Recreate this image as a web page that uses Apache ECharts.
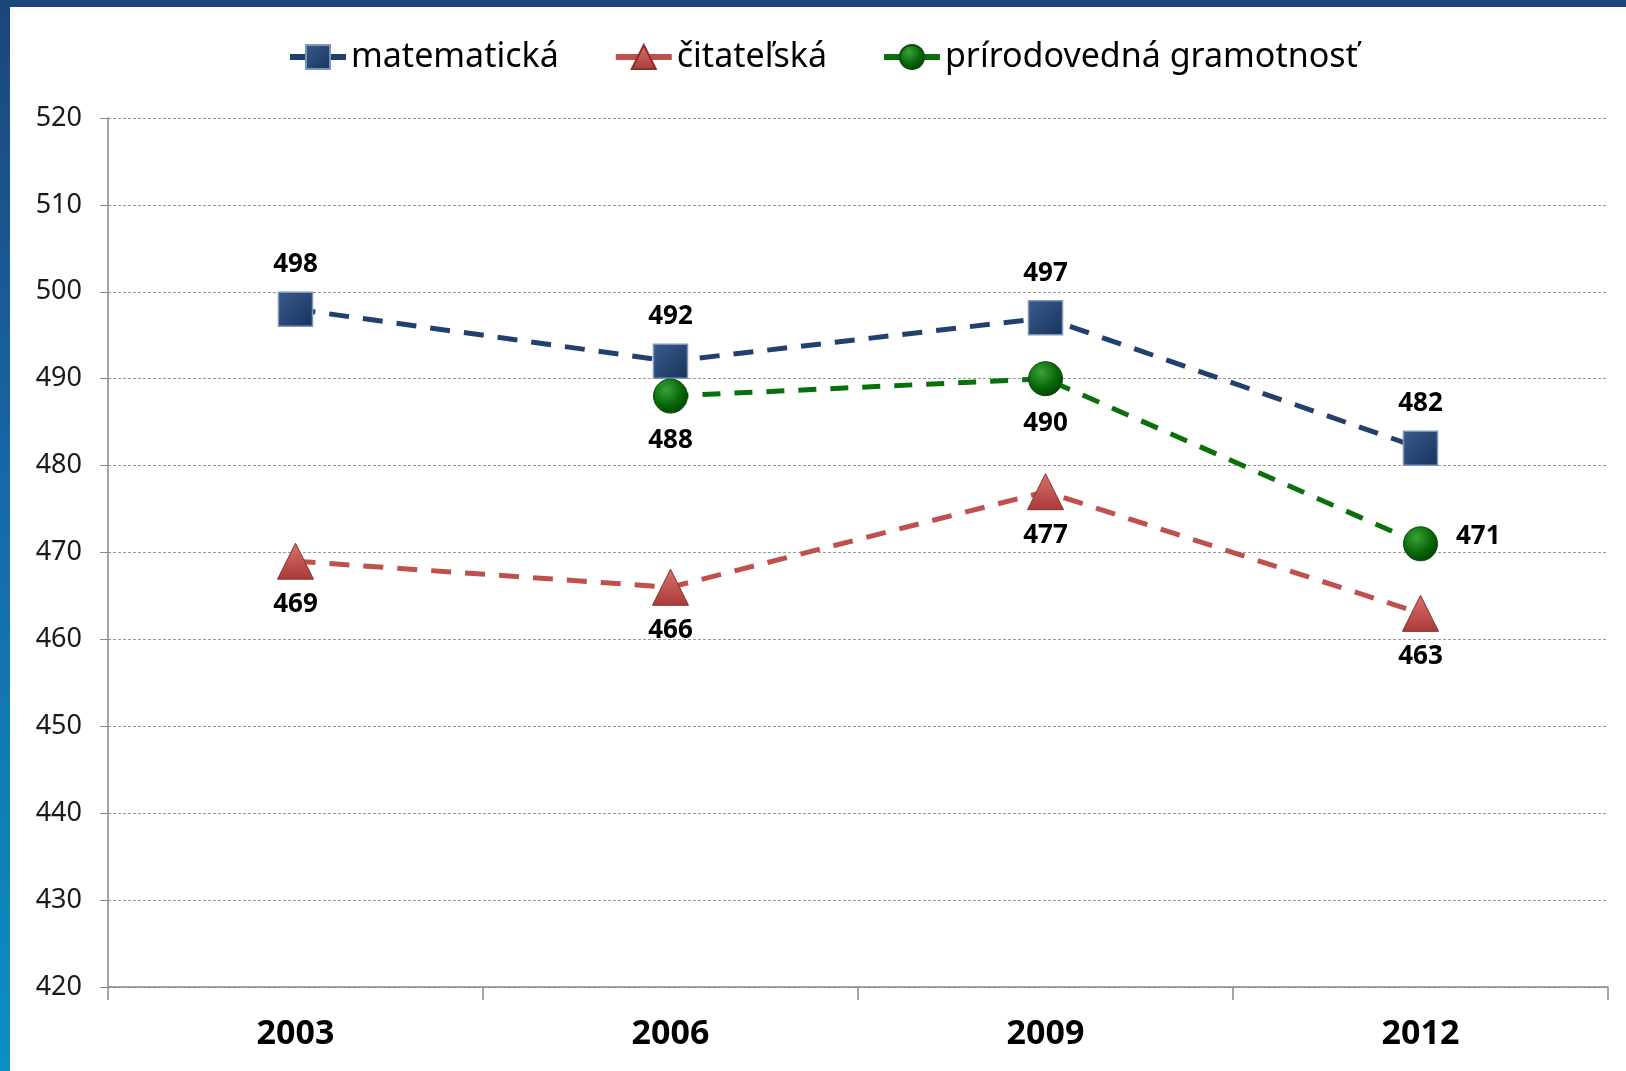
<!DOCTYPE html>
<html>
<head>
<meta charset="utf-8">
<script src="https://cdn.jsdelivr.net/npm/echarts@6/dist/echarts.min.js"></script>
<style>
  html, body { margin: 0; padding: 0; }
  body {
    width: 1626px; height: 1071px; overflow: hidden;
    background: linear-gradient(180deg, #1c4679 0%, #1668a8 45%, #0c8fc3 100%);
  }
  #chart {
    position: absolute; left: 10px; top: 7px;
    width: 1616px; height: 1064px; background: #fff;
  }
</style>
</head>
<body>
<div id="chart"></div>
<script>
// roky testovania
var years = ["2003", "2006", "2009", "2012"];
// priemerné skóre
var matematicka = [498, 492, 497, 482];
var citatelska = [469, 466, 477, 463];
var prirodovedna = [null, 488, 490, 471];
var seriesNames = ["matematická", "čitateľská", "prírodovedná gramotnosť"];

var labelFont = { fontFamily: "Noto Sans", fontWeight: "bold", fontSize: 26, color: "#000" };

var chart = echarts.init(document.getElementById("chart"));
chart.setOption({
  animation: false,
  textStyle: { fontFamily: "Noto Sans" },
  legend: {
    top: 28,
    left: 272,
    itemWidth: 56,
    itemHeight: 30,
    itemGap: 54,
    lineStyle: { width: 6, type: "solid" },
    textStyle: { fontSize: 34, color: "#000", fontFamily: "Noto Sans" },
    data: seriesNames
  },
  grid: { left: 98, right: 18, top: 111, bottom: 84 },
  xAxis: {
    type: "category",
    data: years,
    boundaryGap: true,
    axisLine: { lineStyle: { color: "#888", width: 1.5 } },
    axisTick: { show: true, length: 13, lineStyle: { color: "#888", width: 1.5 } },
    axisLabel: { fontSize: 34, fontWeight: "bold", color: "#000", margin: 30, fontFamily: "Noto Sans" }
  },
  yAxis: {
    type: "value",
    min: 420,
    max: 520,
    interval: 10,
    axisLine: { show: true, lineStyle: { color: "#888", width: 1.5 } },
    axisTick: { show: true, length: 8, lineStyle: { color: "#888" } },
    axisLabel: { fontSize: 27, color: "#1a1a1a", margin: 26, fontFamily: "Noto Sans" },
    splitLine: { lineStyle: { color: "#999", width: 1, type: [3, 2] } }
  },
  series: [
    {
      name: seriesNames[0],
      type: "line",
      data: matematicka,
      symbol: "rect",
      symbolSize: 34,
      lineStyle: { color: "#22406e", width: 5, type: [20, 14] },
      itemStyle: {
        color: new echarts.graphic.LinearGradient(0, 0, 1, 1, [
          { offset: 0, color: "#3a5c8c" }, { offset: 1, color: "#17335c" }
        ]),
        borderColor: "#7d95b8", borderWidth: 1.5
      },
      label: { show: true, position: "top", distance: 14, ...labelFont }
    },
    {
      name: seriesNames[1],
      type: "line",
      data: citatelska,
      symbol: "triangle",
      symbolSize: 36,
      lineStyle: { color: "#c0504d", width: 5, type: [20, 14] },
      itemStyle: {
        color: new echarts.graphic.LinearGradient(0, 0, 0, 1, [
          { offset: 0, color: "#d9706c" }, { offset: 1, color: "#a83b38" }
        ]),
        borderColor: "#8b2e2c", borderWidth: 1
      },
      label: { show: true, position: "bottom", distance: 12, ...labelFont }
    },
    {
      name: seriesNames[2],
      type: "line",
      symbol: "circle",
      symbolSize: 34,
      connectNulls: false,
      lineStyle: { color: "#0b6f0b", width: 5, type: [18, 14] },
      itemStyle: {
        color: new echarts.graphic.RadialGradient(0.38, 0.32, 0.7, [
          { offset: 0, color: "#3aa33a" }, { offset: 0.6, color: "#0a6a0a" }, { offset: 1, color: "#034503" }
        ]),
        borderColor: "#064d06", borderWidth: 1
      },
      label: { show: true, position: "bottom", distance: 14, ...labelFont },
      data: prirodovedna.map(function (v, i) {
        if (i === prirodovedna.length - 1) {
          return { value: v, label: { position: "right", distance: 18, offset: [0, -7] } };
        }
        return v;
      })
    }
  ]
});
</script>
</body>
</html>
